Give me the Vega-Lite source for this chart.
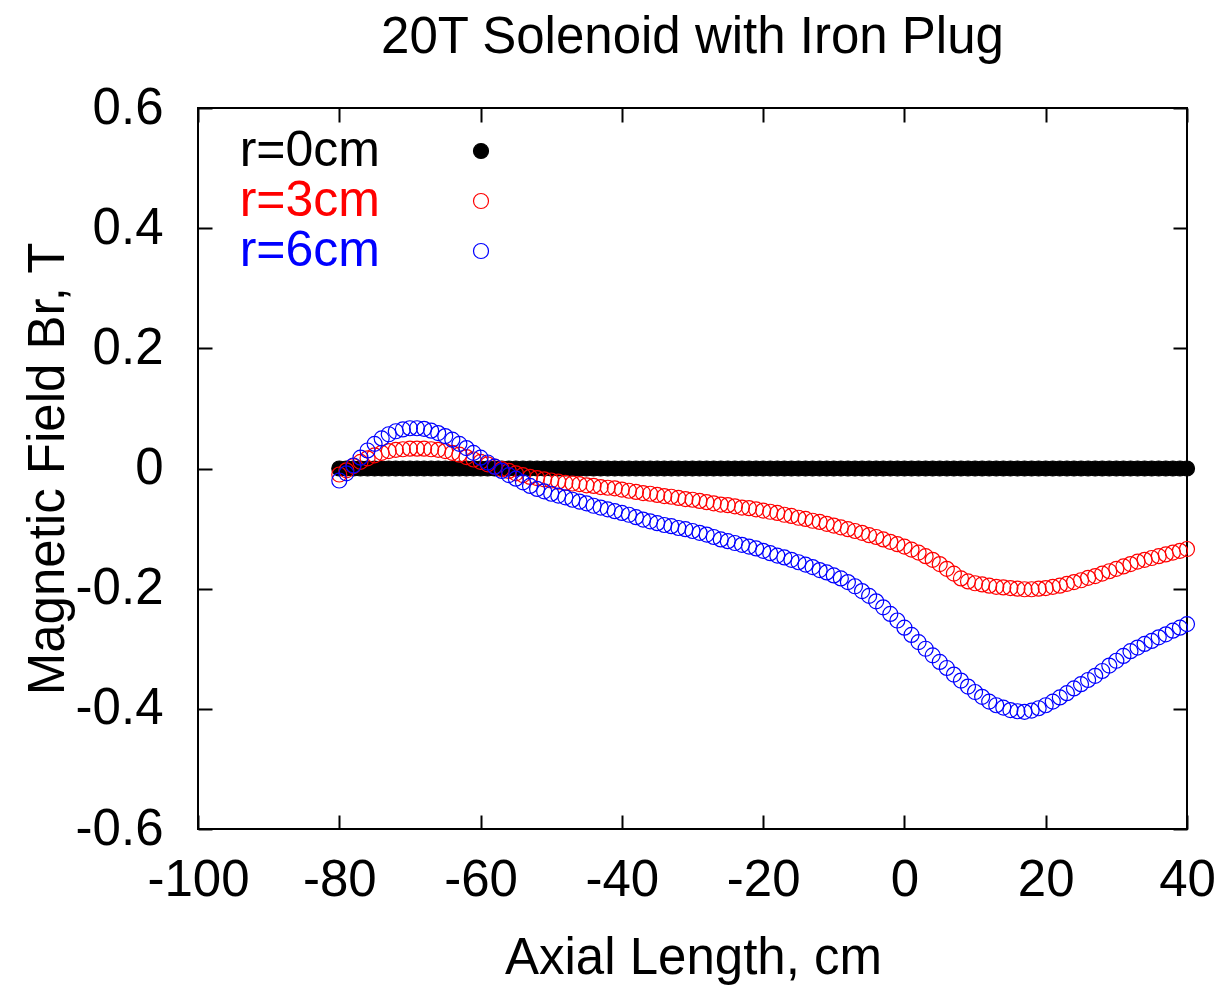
{
"$schema": "https://vega.github.io/schema/vega-lite/v6.json",
"autosize": "none",
"width": 989,
"height": 721,
"padding": {"left": 198, "top": 108, "right": 39, "bottom": 158},
"background": "white",
"title": {"text": "20T Solenoid with Iron Plug", "fontSize": 51, "font": "Liberation Sans", "fontWeight": "normal", "color": "black", "anchor": "middle", "baseline": "bottom", "offset": 44, "dy": 77},
"data": {"values": [
{"x":-80,"r=0cm":0,"r=3cm":-0.010,"r=6cm":-0.020},
{"x":-79,"r=0cm":0,"r=3cm":-0.003,"r=6cm":-0.008},
{"x":-78,"r=0cm":0,"r=3cm":0.004,"r=6cm":0.005},
{"x":-77,"r=0cm":0,"r=3cm":0.011,"r=6cm":0.018},
{"x":-76,"r=0cm":0,"r=3cm":0.017,"r=6cm":0.030},
{"x":-75,"r=0cm":0,"r=3cm":0.022,"r=6cm":0.041},
{"x":-74,"r=0cm":0,"r=3cm":0.026,"r=6cm":0.050},
{"x":-73,"r=0cm":0,"r=3cm":0.029,"r=6cm":0.057},
{"x":-72,"r=0cm":0,"r=3cm":0.031,"r=6cm":0.062},
{"x":-71,"r=0cm":0,"r=3cm":0.032,"r=6cm":0.065},
{"x":-70,"r=0cm":0,"r=3cm":0.033,"r=6cm":0.067},
{"x":-69,"r=0cm":0,"r=3cm":0.033,"r=6cm":0.067},
{"x":-68,"r=0cm":0,"r=3cm":0.033,"r=6cm":0.066},
{"x":-67,"r=0cm":0,"r=3cm":0.032,"r=6cm":0.063},
{"x":-66,"r=0cm":0,"r=3cm":0.031,"r=6cm":0.059},
{"x":-65,"r=0cm":0,"r=3cm":0.029,"r=6cm":0.054},
{"x":-64,"r=0cm":0,"r=3cm":0.026,"r=6cm":0.048},
{"x":-63,"r=0cm":0,"r=3cm":0.023,"r=6cm":0.041},
{"x":-62,"r=0cm":0,"r=3cm":0.019,"r=6cm":0.034},
{"x":-61,"r=0cm":0,"r=3cm":0.015,"r=6cm":0.026},
{"x":-60,"r=0cm":0,"r=3cm":0.011,"r=6cm":0.018},
{"x":-59,"r=0cm":0,"r=3cm":0.007,"r=6cm":0.010},
{"x":-58,"r=0cm":0,"r=3cm":0.003,"r=6cm":0.003},
{"x":-57,"r=0cm":0,"r=3cm":-0.001,"r=6cm":-0.004},
{"x":-56,"r=0cm":0,"r=3cm":-0.004,"r=6cm":-0.011},
{"x":-55,"r=0cm":0,"r=3cm":-0.008,"r=6cm":-0.017},
{"x":-54,"r=0cm":0,"r=3cm":-0.011,"r=6cm":-0.023},
{"x":-53,"r=0cm":0,"r=3cm":-0.014,"r=6cm":-0.029},
{"x":-52,"r=0cm":0,"r=3cm":-0.016,"r=6cm":-0.034},
{"x":-51,"r=0cm":0,"r=3cm":-0.018,"r=6cm":-0.038},
{"x":-50,"r=0cm":0,"r=3cm":-0.020,"r=6cm":-0.042},
{"x":-49,"r=0cm":0,"r=3cm":-0.022,"r=6cm":-0.045},
{"x":-48,"r=0cm":0,"r=3cm":-0.024,"r=6cm":-0.048},
{"x":-47,"r=0cm":0,"r=3cm":-0.025,"r=6cm":-0.052},
{"x":-46,"r=0cm":0,"r=3cm":-0.026,"r=6cm":-0.055},
{"x":-45,"r=0cm":0,"r=3cm":-0.028,"r=6cm":-0.058},
{"x":-44,"r=0cm":0,"r=3cm":-0.029,"r=6cm":-0.062},
{"x":-43,"r=0cm":0,"r=3cm":-0.031,"r=6cm":-0.065},
{"x":-42,"r=0cm":0,"r=3cm":-0.032,"r=6cm":-0.068},
{"x":-41,"r=0cm":0,"r=3cm":-0.033,"r=6cm":-0.071},
{"x":-40,"r=0cm":0,"r=3cm":-0.035,"r=6cm":-0.074},
{"x":-39,"r=0cm":0,"r=3cm":-0.037,"r=6cm":-0.077},
{"x":-38,"r=0cm":0,"r=3cm":-0.039,"r=6cm":-0.081},
{"x":-37,"r=0cm":0,"r=3cm":-0.041,"r=6cm":-0.085},
{"x":-36,"r=0cm":0,"r=3cm":-0.042,"r=6cm":-0.088},
{"x":-35,"r=0cm":0,"r=3cm":-0.044,"r=6cm":-0.091},
{"x":-34,"r=0cm":0,"r=3cm":-0.046,"r=6cm":-0.094},
{"x":-33,"r=0cm":0,"r=3cm":-0.047,"r=6cm":-0.096},
{"x":-32,"r=0cm":0,"r=3cm":-0.049,"r=6cm":-0.099},
{"x":-31,"r=0cm":0,"r=3cm":-0.051,"r=6cm":-0.101},
{"x":-30,"r=0cm":0,"r=3cm":-0.052,"r=6cm":-0.104},
{"x":-29,"r=0cm":0,"r=3cm":-0.054,"r=6cm":-0.107},
{"x":-28,"r=0cm":0,"r=3cm":-0.056,"r=6cm":-0.110},
{"x":-27,"r=0cm":0,"r=3cm":-0.058,"r=6cm":-0.114},
{"x":-26,"r=0cm":0,"r=3cm":-0.060,"r=6cm":-0.118},
{"x":-25,"r=0cm":0,"r=3cm":-0.061,"r=6cm":-0.121},
{"x":-24,"r=0cm":0,"r=3cm":-0.063,"r=6cm":-0.124},
{"x":-23,"r=0cm":0,"r=3cm":-0.065,"r=6cm":-0.127},
{"x":-22,"r=0cm":0,"r=3cm":-0.066,"r=6cm":-0.130},
{"x":-21,"r=0cm":0,"r=3cm":-0.068,"r=6cm":-0.133},
{"x":-20,"r=0cm":0,"r=3cm":-0.070,"r=6cm":-0.137},
{"x":-19,"r=0cm":0,"r=3cm":-0.072,"r=6cm":-0.141},
{"x":-18,"r=0cm":0,"r=3cm":-0.074,"r=6cm":-0.145},
{"x":-17,"r=0cm":0,"r=3cm":-0.077,"r=6cm":-0.148},
{"x":-16,"r=0cm":0,"r=3cm":-0.079,"r=6cm":-0.152},
{"x":-15,"r=0cm":0,"r=3cm":-0.082,"r=6cm":-0.156},
{"x":-14,"r=0cm":0,"r=3cm":-0.084,"r=6cm":-0.160},
{"x":-13,"r=0cm":0,"r=3cm":-0.087,"r=6cm":-0.164},
{"x":-12,"r=0cm":0,"r=3cm":-0.089,"r=6cm":-0.169},
{"x":-11,"r=0cm":0,"r=3cm":-0.092,"r=6cm":-0.173},
{"x":-10,"r=0cm":0,"r=3cm":-0.095,"r=6cm":-0.178},
{"x":-9,"r=0cm":0,"r=3cm":-0.098,"r=6cm":-0.183},
{"x":-8,"r=0cm":0,"r=3cm":-0.101,"r=6cm":-0.189},
{"x":-7,"r=0cm":0,"r=3cm":-0.104,"r=6cm":-0.196},
{"x":-6,"r=0cm":0,"r=3cm":-0.107,"r=6cm":-0.204},
{"x":-5,"r=0cm":0,"r=3cm":-0.111,"r=6cm":-0.212},
{"x":-4,"r=0cm":0,"r=3cm":-0.114,"r=6cm":-0.221},
{"x":-3,"r=0cm":0,"r=3cm":-0.118,"r=6cm":-0.231},
{"x":-2,"r=0cm":0,"r=3cm":-0.122,"r=6cm":-0.242},
{"x":-1,"r=0cm":0,"r=3cm":-0.126,"r=6cm":-0.253},
{"x":0,"r=0cm":0,"r=3cm":-0.130,"r=6cm":-0.265},
{"x":1,"r=0cm":0,"r=3cm":-0.135,"r=6cm":-0.277},
{"x":2,"r=0cm":0,"r=3cm":-0.140,"r=6cm":-0.289},
{"x":3,"r=0cm":0,"r=3cm":-0.146,"r=6cm":-0.300},
{"x":4,"r=0cm":0,"r=3cm":-0.152,"r=6cm":-0.311},
{"x":5,"r=0cm":0,"r=3cm":-0.159,"r=6cm":-0.322},
{"x":6,"r=0cm":0,"r=3cm":-0.167,"r=6cm":-0.332},
{"x":7,"r=0cm":0,"r=3cm":-0.175,"r=6cm":-0.343},
{"x":8,"r=0cm":0,"r=3cm":-0.183,"r=6cm":-0.353},
{"x":9,"r=0cm":0,"r=3cm":-0.188,"r=6cm":-0.363},
{"x":10,"r=0cm":0,"r=3cm":-0.191,"r=6cm":-0.372},
{"x":11,"r=0cm":0,"r=3cm":-0.193,"r=6cm":-0.380},
{"x":12,"r=0cm":0,"r=3cm":-0.195,"r=6cm":-0.388},
{"x":13,"r=0cm":0,"r=3cm":-0.197,"r=6cm":-0.394},
{"x":14,"r=0cm":0,"r=3cm":-0.198,"r=6cm":-0.398},
{"x":15,"r=0cm":0,"r=3cm":-0.199,"r=6cm":-0.402},
{"x":16,"r=0cm":0,"r=3cm":-0.200,"r=6cm":-0.404},
{"x":17,"r=0cm":0,"r=3cm":-0.201,"r=6cm":-0.405},
{"x":18,"r=0cm":0,"r=3cm":-0.201,"r=6cm":-0.403},
{"x":19,"r=0cm":0,"r=3cm":-0.200,"r=6cm":-0.399},
{"x":20,"r=0cm":0,"r=3cm":-0.199,"r=6cm":-0.394},
{"x":21,"r=0cm":0,"r=3cm":-0.197,"r=6cm":-0.388},
{"x":22,"r=0cm":0,"r=3cm":-0.195,"r=6cm":-0.381},
{"x":23,"r=0cm":0,"r=3cm":-0.192,"r=6cm":-0.374},
{"x":24,"r=0cm":0,"r=3cm":-0.189,"r=6cm":-0.366},
{"x":25,"r=0cm":0,"r=3cm":-0.186,"r=6cm":-0.359},
{"x":26,"r=0cm":0,"r=3cm":-0.182,"r=6cm":-0.352},
{"x":27,"r=0cm":0,"r=3cm":-0.179,"r=6cm":-0.345},
{"x":28,"r=0cm":0,"r=3cm":-0.175,"r=6cm":-0.337},
{"x":29,"r=0cm":0,"r=3cm":-0.171,"r=6cm":-0.328},
{"x":30,"r=0cm":0,"r=3cm":-0.167,"r=6cm":-0.320},
{"x":31,"r=0cm":0,"r=3cm":-0.163,"r=6cm":-0.312},
{"x":32,"r=0cm":0,"r=3cm":-0.159,"r=6cm":-0.304},
{"x":33,"r=0cm":0,"r=3cm":-0.155,"r=6cm":-0.298},
{"x":34,"r=0cm":0,"r=3cm":-0.152,"r=6cm":-0.292},
{"x":35,"r=0cm":0,"r=3cm":-0.149,"r=6cm":-0.287},
{"x":36,"r=0cm":0,"r=3cm":-0.146,"r=6cm":-0.281},
{"x":37,"r=0cm":0,"r=3cm":-0.143,"r=6cm":-0.276},
{"x":38,"r=0cm":0,"r=3cm":-0.140,"r=6cm":-0.270},
{"x":39,"r=0cm":0,"r=3cm":-0.137,"r=6cm":-0.265},
{"x":40,"r=0cm":0,"r=3cm":-0.134,"r=6cm":-0.259}
]},
"transform": [{"fold": ["r=0cm", "r=3cm", "r=6cm"], "as": ["key", "value"]}],
"layer": [
{
"mark": {"type": "point", "shape": "circle", "size": 225, "strokeWidth": 1.2, "opacity": 1},
"encoding": {
"x": {"field": "x", "type": "quantitative", "scale": {"domain": [-100, 40], "nice": false, "zero": false},
  "axis": {"orient": "bottom", "values": [-100, -80, -60, -40, -20, 0, 20, 40], "labelExpr": "'' + datum.value", "domain": false, "grid": false, "tickSize": -14, "tickWidth": 2, "tickColor": "black", "labelFontSize": 51, "labelFont": "Liberation Sans", "labelColor": "black", "labelPadding": 40, "labelFlush": false, "labelOverlap": false, "title": "Axial Length, cm", "titleFontSize": 51, "titleFont": "Liberation Sans", "titleFontWeight": "normal", "titleColor": "black", "titleX": 495, "titleY": 144, "titleAlign": "center", "titleBaseline": "alphabetic"}},
"y": {"field": "value", "type": "quantitative", "scale": {"domain": [-0.6, 0.6], "nice": false, "zero": false},
  "axis": {"orient": "left", "values": [-0.6, -0.4, -0.2, 0, 0.2, 0.4, 0.6], "labelExpr": "'' + datum.value", "domain": false, "grid": false, "tickSize": -14, "tickWidth": 2, "tickColor": "black", "labelFontSize": 51, "labelFont": "Liberation Sans", "labelColor": "black", "labelPadding": 49, "labelFlush": false, "labelOverlap": false, "title": "Magnetic Field Br, T", "titleFontSize": 51, "titleFont": "Liberation Sans", "titleFontWeight": "normal", "titleColor": "black", "titleX": -135, "titleY": 360.5, "titleAngle": 270, "titleAlign": "center", "titleBaseline": "alphabetic"}},
"stroke": {"field": "key", "type": "nominal", "scale": {"domain": ["r=0cm", "r=3cm", "r=6cm"], "range": ["#000000", "#ff0000", "#0000ff"]},
  "legend": {"title": null, "orient": "none", "legendX": 258, "legendY": 18, "padding": 0, "labelFontSize": 50, "labelFont": "Liberation Sans", "labelAlign": "right", "labelOffset": -126, "labelLimit": 400, "symbolType": "circle", "symbolSize": 225, "symbolStrokeWidth": 1.2, "rowPadding": 0,
    "labelColor": {"expr": "datum.value === 'r=3cm' ? '#ff0000' : datum.value === 'r=6cm' ? '#0000ff' : '#000000'"}}},
"fill": {"field": "key", "type": "nominal", "scale": {"domain": ["r=0cm", "r=3cm", "r=6cm"], "range": ["#000000", "transparent", "transparent"]},
  "legend": {"title": null, "orient": "none", "legendX": 258, "legendY": 18, "padding": 0, "labelFontSize": 50, "labelFont": "Liberation Sans", "labelAlign": "right", "labelOffset": -126, "labelLimit": 400, "symbolType": "circle", "symbolSize": 225, "symbolStrokeWidth": 1.2, "rowPadding": 0,
    "labelColor": {"expr": "datum.value === 'r=3cm' ? '#ff0000' : datum.value === 'r=6cm' ? '#0000ff' : '#000000'"}}},
"order": {"field": "key", "type": "nominal"}
}
},
{
"mark": {"type": "point", "opacity": 0},
"encoding": {
"x": {"field": "x", "type": "quantitative", "axis": {"orient": "top", "values": [-100, -80, -60, -40, -20, 0, 20, 40], "labels": false, "domain": false, "grid": false, "tickSize": -14, "tickWidth": 2, "tickColor": "black", "title": null}},
"y": {"field": "value", "type": "quantitative", "axis": {"orient": "right", "values": [-0.6, -0.4, -0.2, 0, 0.2, 0.4, 0.6], "labels": false, "domain": false, "grid": false, "tickSize": -14, "tickWidth": 2, "tickColor": "black", "title": null}}
}
}
],
"resolve": {"axis": {"x": "independent", "y": "independent"}},
"config": {"view": {"stroke": "black", "strokeWidth": 2}}
}
